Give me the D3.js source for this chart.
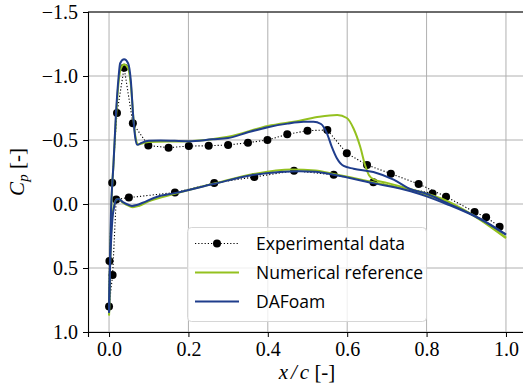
<!DOCTYPE html>
<html>
<head>
<meta charset="utf-8">
<script src="https://cdn.jsdelivr.net/npm/d3@7"></script>
<style>
  body { margin: 0; background: #fff; }
  svg { display: block; }
</style>
</head>
<body>
<div id="chart"></div>
<script>
// experimental data, ordered upper TE -> LE -> lower TE
var expX = [0.984, 0.950, 0.921, 0.849, 0.780, 0.710, 0.650, 0.599, 0.550, 0.500, 0.449, 0.399, 0.350, 0.300,
  0.251, 0.201, 0.150, 0.099, 0.060, 0.038, 0.020, 0.008, 0.001, 0.000, 0.009, 0.018, 0.050, 0.166, 0.265,
  0.366, 0.466, 0.566, 0.666, 0.815];
var expCp = [0.177, 0.104, 0.063, -0.057, -0.156, -0.237, -0.305, -0.396, -0.578, -0.573, -0.544, -0.500, -0.479, -0.461,
  -0.455, -0.453, -0.440, -0.457, -0.630, -1.065, -0.710, -0.166, 0.445, 0.800, 0.555, -0.036, -0.050, -0.090, -0.164,
  -0.211, -0.260, -0.228, -0.170, -0.083];

// numerical reference (green)
var refUpperX = [0.000, 0.003, 0.006, 0.011, 0.018, 0.025, 0.030, 0.038, 0.048, 0.055, 0.062, 0.068, 0.074, 0.085,
  0.100, 0.200, 0.300, 0.400, 0.480, 0.530, 0.575, 0.599, 0.616, 0.633, 0.645, 0.655, 0.668, 0.700, 0.767, 0.850,
  0.935, 1.000];
var refUpperCp = [0.870, 0.400, 0.000, -0.300, -0.700, -0.980, -1.060, -1.090, -1.060, -0.930, -0.650, -0.500, -0.465, -0.475,
  -0.485, -0.490, -0.525, -0.610, -0.651, -0.682, -0.695, -0.672, -0.590, -0.445, -0.305, -0.225, -0.190, -0.165, -0.110, -0.026,
  0.125, 0.268];
var refLowerX = [0.000, 0.003, 0.008, 0.013, 0.018, 0.024, 0.035, 0.050, 0.060, 0.075, 0.100, 0.166, 0.265, 0.365,
  0.460, 0.520, 0.566, 0.666, 0.760, 0.850, 0.935, 1.000];
var refLowerCp = [0.870, 0.400, 0.100, 0.010, -0.035, -0.040, -0.010, 0.015, 0.025, 0.015, -0.020, -0.080, -0.160, -0.235,
  -0.270, -0.262, -0.235, -0.170, -0.105, -0.015, 0.118, 0.262];

// DAFoam (blue)
var dafUpperX = [0.000, 0.002, 0.005, 0.008, 0.011, 0.017, 0.024, 0.028, 0.038, 0.048, 0.055, 0.061, 0.066, 0.071,
  0.082, 0.100, 0.130, 0.200, 0.260, 0.300, 0.350, 0.400, 0.450, 0.490, 0.515, 0.534, 0.549, 0.561, 0.574, 0.591,
  0.616, 0.666, 0.717, 0.760, 0.800, 0.850, 0.935, 1.000];
var dafUpperCp = [0.850, 0.500, 0.050, -0.150, -0.300, -0.680, -0.990, -1.100, -1.130, -1.100, -0.960, -0.680, -0.520, -0.462,
  -0.478, -0.494, -0.497, -0.490, -0.505, -0.515, -0.560, -0.600, -0.628, -0.642, -0.643, -0.625, -0.552, -0.448, -0.357, -0.297,
  -0.276, -0.250, -0.190, -0.115, -0.080, -0.010, 0.115, 0.238];
var dafLowerX = [0.000, 0.002, 0.005, 0.009, 0.013, 0.018, 0.024, 0.035, 0.050, 0.058, 0.070, 0.085, 0.120, 0.166,
  0.265, 0.365, 0.430, 0.480, 0.520, 0.566, 0.666, 0.760, 0.800, 0.850, 0.935, 1.000];
var dafLowerCp = [0.850, 0.550, 0.300, 0.100, 0.020, -0.035, -0.040, -0.015, 0.008, 0.015, 0.008, -0.010, -0.055, -0.085,
  -0.158, -0.228, -0.250, -0.256, -0.252, -0.228, -0.163, -0.100, -0.060, 0.000, 0.118, 0.240];

var xTicks = [0.0, 0.2, 0.4, 0.6, 0.8, 1.0];
var yTicks = [-1.5, -1.0, -0.5, 0.0, 0.5, 1.0];
var legendLabels = ['Experimental data', 'Numerical reference', 'DAFoam'];

var W = 523, H = 391;
var green = '#94c11f', blue = '#1f3d8c';
var serif = '"Liberation Serif", "DejaVu Serif", serif';
var sans = '"Open Sans", "DejaVu Sans", sans-serif';

var svg = d3.select('#chart').append('svg')
  .attr('width', W)
  .attr('height', H);

var x = d3.scaleLinear().domain([-0.053, 1.053]).range([88, 527]);
var y = d3.scaleLinear().domain([-1.5, 1.0]).range([12, 332]);

// grid
var grid = svg.append('g');
grid.selectAll('.vg').data(xTicks).enter().append('line')
  .attr('x1', function (d) { return x(d); })
  .attr('x2', function (d) { return x(d); })
  .attr('y1', y(-1.5)).attr('y2', y(1.0))
  .attr('stroke', '#b0b0b0').attr('stroke-width', 1);
grid.selectAll('.hg').data(yTicks).enter().append('line')
  .attr('x1', x.range()[0]).attr('x2', x.range()[1])
  .attr('y1', function (d) { return y(d); })
  .attr('y2', function (d) { return y(d); })
  .attr('stroke', '#b0b0b0').attr('stroke-width', 1);

var fmt = function (d) { return d3.format('.1f')(d).replace('-', '\u2212'); };

var gx = svg.append('g').attr('transform', 'translate(0,' + y(1.0) + ')')
  .call(d3.axisBottom(x).tickValues(xTicks).tickFormat(fmt).tickSize(5).tickPadding(5));
var gy = svg.append('g').attr('transform', 'translate(' + x(-0.053) + ',0)')
  .call(d3.axisLeft(y).tickValues(yTicks).tickFormat(fmt).tickSize(5).tickPadding(5));
[gx, gy].forEach(function (g) {
  g.select('.domain').attr('stroke', '#000').attr('stroke-width', 1.1);
  g.selectAll('.tick line').attr('stroke', '#000').attr('stroke-width', 1);
  g.selectAll('.tick text').attr('fill', '#000')
    .style('font-family', serif).style('font-size', '20px');
});
// top spine
svg.append('line')
  .attr('x1', x.range()[0]).attr('x2', x.range()[1])
  .attr('y1', y(-1.5)).attr('y2', y(-1.5))
  .attr('stroke', '#000').attr('stroke-width', 1.1);

// curves
var clip = svg.append('clipPath').attr('id', 'clip').append('rect')
  .attr('x', 88).attr('y', 12).attr('width', 439).attr('height', 320);
var plot = svg.append('g').attr('clip-path', 'url(#clip)');

function pts(xs, ys) { return xs.map(function (d, i) { return [d, ys[i]]; }); }
var smooth = d3.line().x(function (d) { return x(d[0]); }).y(function (d) { return y(d[1]); })
  .curve(d3.curveMonotoneX);
var straight = d3.line().x(function (d) { return x(d[0]); }).y(function (d) { return y(d[1]); });

var exp = pts(expX, expCp);
plot.append('path').attr('d', straight(exp))
  .attr('fill', 'none').attr('stroke', '#000').attr('stroke-width', 1.1)
  .attr('stroke-dasharray', '1.2,2');
plot.selectAll('.dot').data(exp).enter().append('circle')
  .attr('cx', function (d) { return x(d[0]); })
  .attr('cy', function (d) { return y(d[1]); })
  .attr('r', 4).attr('fill', '#000');

[[refUpperX, refUpperCp, green], [refLowerX, refLowerCp, green],
 [dafUpperX, dafUpperCp, blue], [dafLowerX, dafLowerCp, blue]].forEach(function (s) {
  plot.append('path').attr('d', smooth(pts(s[0], s[1])))
    .attr('fill', 'none').attr('stroke', s[2]).attr('stroke-width', 2)
    .attr('stroke-linejoin', 'round');
});

// axis labels
var xl = svg.append('text').attr('x', 307).attr('y', 379).attr('text-anchor', 'middle')
  .style('font-family', serif).style('font-size', '21px');
xl.append('tspan').style('font-style', 'italic').text('x');
xl.append('tspan').style('font-style', 'italic').attr('dx', 3).text('/');
xl.append('tspan').style('font-style', 'italic').attr('dx', 3).text('c');
xl.append('tspan').text(' [-]');

var yl = svg.append('text').attr('transform', 'translate(24,172) rotate(-90)')
  .attr('text-anchor', 'middle')
  .style('font-family', serif).style('font-size', '21px');
yl.append('tspan').style('font-style', 'italic').text('C');
yl.append('tspan').style('font-style', 'italic').style('font-size', '15px').attr('dy', 4).text('p');
yl.append('tspan').attr('dy', -4).text(' [-]');

// legend
var lg = svg.append('g');
lg.append('rect').attr('x', 187.5).attr('y', 227.5).attr('width', 239).attr('height', 94)
  .attr('rx', 4).attr('fill', '#fff').attr('fill-opacity', 0.8)
  .attr('stroke', '#d6d6d6').attr('stroke-width', 1);
var rowY = [243.5, 272.5, 301.5];
var legendColor = ['#000', green, blue];
legendLabels.forEach(function (t, i) {
  var l = lg.append('line').attr('x1', 195).attr('x2', 239)
    .attr('y1', rowY[i]).attr('y2', rowY[i])
    .attr('stroke', legendColor[i]);
  if (i === 0) {
    l.attr('stroke-width', 1.1).attr('stroke-dasharray', '1.2,2');
    lg.append('circle').attr('cx', 217).attr('cy', rowY[i]).attr('r', 4).attr('fill', '#000');
  } else {
    l.attr('stroke-width', 2);
  }
  lg.append('text').attr('x', 256).attr('y', rowY[i] + 6)
    .style('font-family', sans).style('font-size', '17.5px').attr('fill', '#000')
    .text(t);
});
</script>
</body>
</html>
